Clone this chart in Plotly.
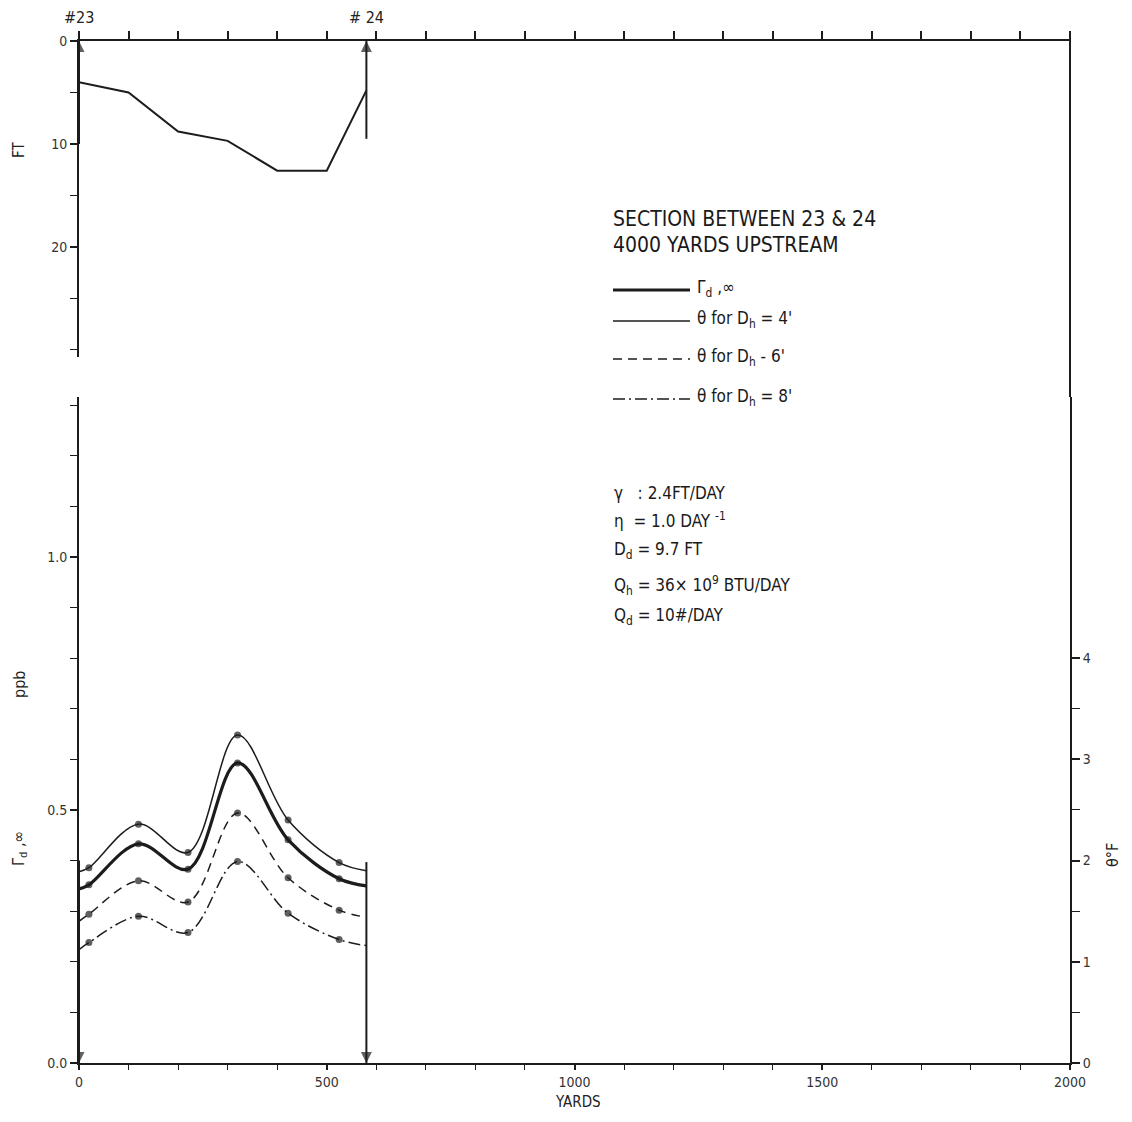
import plotly.graph_objects as go

# ---------------- data ----------------
# Upper panel: channel cross-section depth (ft) vs distance (yards)
depth_x = [0, 100, 200, 300, 400, 500, 580]
depth_ft = [4.0, 5.0, 8.8, 9.7, 12.6, 12.6, 4.8]

# Lower panel: concentration / temperature curves
curve_x = [0, 20, 120, 220, 320, 422, 525, 580]
gamma_ppb = [0.344, 0.352, 0.433, 0.383, 0.593, 0.441, 0.364, 0.350]
theta_dh4 = [1.89, 1.93, 2.36, 2.08, 3.24, 2.40, 1.98, 1.90]
theta_dh6 = [1.40, 1.47, 1.80, 1.59, 2.47, 1.83, 1.51, 1.44]
theta_dh8 = [1.12, 1.19, 1.45, 1.29, 1.99, 1.48, 1.22, 1.16]
marker_shown = [0, 1, 1, 1, 1, 1, 1, 0]

# section boundaries (stations #23 and #24)
station_labels = ["#23", "# 24"]
station_x = [0, 580]
top_arrow_ft = [10.0, 9.5]
bottom_arrow_ppb = [0.40, 0.397]

legend_labels = ["Γ<sub>d</sub> ,∞", "θ for D<sub>h</sub> = 4'", "θ for D<sub>h</sub> - 6'", "θ for D<sub>h</sub> = 8'"]
param_lines = [
    "γ   : 2.4FT/DAY",
    "η  = 1.0 DAY <sup>-1</sup>",
    "D<sub>d</sub> = 9.7 FT",
    "Q<sub>h</sub> = 36× 10<sup>9</sup> BTU/DAY",
    "Q<sub>d</sub> = 10#/DAY",
]
title_lines = ["SECTION BETWEEN 23 & 24", "4000 YARDS UPSTREAM"]

# ---------------- style ----------------
FONT = "Liberation Sans Narrow, DejaVu Sans Condensed, Arial Narrow, Liberation Sans, sans-serif"
INK = "#1c1c1c"
OFF = 8  # page body margin
W, H = 1132 - 2 * OFF, 1122 - 2 * OFF
ML, MR, MT, MB = 71, 54, 33, 51
PW, PH = W - ML - MR, H - MT - MB


def px_x(px):
    return (px - OFF - ML) / PW


def px_y(py):
    return (OFF + MT + PH - py) / PH


LOW_TOP = px_y(397)
TOP_BOT = px_y(357)
PPB_PER_DEGF = 0.2
PPB_MAX = 1.316

fig = go.Figure()

# upper panel depth profile
fig.add_trace(go.Scatter(x=depth_x, y=depth_ft, xaxis="x2", yaxis="y2", mode="lines",
                         line=dict(color=INK, width=2), showlegend=False, hoverinfo="skip"))

sizes = [7 * m for m in marker_shown]
# Gamma (thick solid) on ppb axis
fig.add_trace(go.Scatter(x=curve_x, y=gamma_ppb, xaxis="x", yaxis="y", mode="lines+markers",
                         line=dict(color=INK, width=3.2, shape="spline", smoothing=1.0),
                         marker=dict(size=sizes, color=INK, line=dict(width=0)), showlegend=False))
# theta curves on degF axis
for vals, dash in [(theta_dh4, "solid"), (theta_dh6, "9px,6px"), (theta_dh8, "12px,4px,2px,4px")]:
    fig.add_trace(go.Scatter(x=curve_x, y=vals, xaxis="x", yaxis="y3", mode="lines+markers",
                             line=dict(color=INK, width=1.5, dash=dash, shape="spline", smoothing=1.0),
                             marker=dict(size=sizes, color=INK, line=dict(width=0)), showlegend=False))

# station boundary arrows
for sx, ft, ppb in zip(station_x, top_arrow_ft, bottom_arrow_ppb):
    fig.add_trace(go.Scatter(x=[sx, sx], y=[0, ft], xaxis="x2", yaxis="y2", mode="lines+markers",
                             line=dict(color=INK, width=2),
                             marker=dict(symbol="arrow-up", size=[11, 0], color=INK, line=dict(width=0)),
                             showlegend=False, hoverinfo="skip"))
    fig.add_trace(go.Scatter(x=[sx, sx], y=[0, ppb], xaxis="x", yaxis="y", mode="lines+markers",
                             line=dict(color=INK, width=2),
                             marker=dict(symbol="arrow-down", size=[11, 0], color=INK, line=dict(width=0)),
                             showlegend=False, hoverinfo="skip"))

axis_common = dict(showline=True, linecolor=INK, linewidth=2, showgrid=False, zeroline=False,
                   tickcolor=INK, tickwidth=1.6, tickfont=dict(family=FONT, size=14, color="#333"))

fig.update_layout(
    width=W, height=H,
    margin=dict(l=ML, r=MR, t=MT, b=MB),
    paper_bgcolor="white", plot_bgcolor="white",
    showlegend=False,
    xaxis=dict(domain=[0, 1], range=[0, 2000], anchor="y", ticks="outside", ticklen=5,
               tickvals=[0, 500, 1000, 1500, 2000],
               minor=dict(tickvals=[v for v in range(100, 2000, 100) if v % 500], ticks="outside",
                          ticklen=5, tickcolor=INK, tickwidth=1.4),
               **axis_common),
    yaxis=dict(domain=[0, LOW_TOP], range=[0, PPB_MAX], anchor="x", ticks="outside", ticklen=7,
               tickvals=[0, 0.5, 1.0], tickformat=".1f",
               minor=dict(tickvals=[0.1, 0.2, 0.3, 0.4, 0.6, 0.7, 0.8, 0.9, 1.1, 1.2, 1.3], ticks="outside",
                          ticklen=7, tickcolor=INK, tickwidth=1.4),
               **axis_common),
    yaxis3=dict(overlaying="y", side="right", anchor="x", range=[0, PPB_MAX / PPB_PER_DEGF],
                ticks="outside", ticklen=8, tickvals=[0, 1, 2, 3, 4],
                minor=dict(tickvals=[0.5, 1.5, 2.5, 3.5], ticks="outside", ticklen=8,
                           tickcolor=INK, tickwidth=1.4),
                **axis_common),
    xaxis2=dict(domain=[0, 1], range=[0, 2000], anchor="y2", side="top", ticks="outside", ticklen=8,
                tickvals=list(range(0, 2001, 100)), showticklabels=False, **axis_common),
    yaxis2=dict(domain=[TOP_BOT, 1], range=[30.7, 0], anchor="x2", ticks="outside", ticklen=7,
                tickvals=[0, 10, 20],
                minor=dict(tickvals=[5, 15, 25, 30], ticks="outside", ticklen=7,
                           tickcolor=INK, tickwidth=1.4),
                **axis_common),
)

# right border continuing above the lower panel
fig.add_shape(type="line", xref="paper", yref="paper", x0=1, x1=1, y0=LOW_TOP, y1=1.008,
              line=dict(color=INK, width=2))

for sx, lab in zip(station_x, station_labels):
    fig.add_annotation(x=sx, y=px_y(17), xref="x2", yref="paper", text=lab, showarrow=False,
                       xanchor="center", yanchor="middle", font=dict(family=FONT, size=16, color="#222"))

# title block
for i, t in enumerate(title_lines):
    fig.add_annotation(x=px_x(611), y=px_y(219 + 26 * i), xref="paper", yref="paper", text=t,
                       showarrow=False, xanchor="left", yanchor="middle",
                       font=dict(family=FONT, size=21, color="#1a1a1a"))

# custom legend
leg_y = [290, 321, 359, 399]
leg_styles = [(3.2, "solid"), (1.5, "solid"), (1.5, "9px,6px"), (1.5, "12px,4px,2px,4px")]
for lab, py, (w, d) in zip(legend_labels, leg_y, leg_styles):
    fig.add_shape(type="line", xref="paper", yref="paper", x0=px_x(613), x1=px_x(690),
                  y0=px_y(py), y1=px_y(py), line=dict(color=INK, width=w, dash=d))
    fig.add_annotation(x=px_x(695), y=px_y(py - 2), xref="paper", yref="paper", text=lab,
                       showarrow=False, xanchor="left", yanchor="middle",
                       font=dict(family=FONT, size=17, color="#1a1a1a"))

# parameters
param_y = [493, 520, 550, 586, 616]
for t, py in zip(param_lines, param_y):
    fig.add_annotation(x=px_x(612), y=px_y(py), xref="paper", yref="paper", text=t,
                       showarrow=False, xanchor="left", yanchor="middle",
                       font=dict(family=FONT, size=17, color="#1a1a1a"))

# axis titles
title_font = dict(family=FONT, size=15, color="#222")
fig.add_annotation(x=px_x(578), y=px_y(1102), xref="paper", yref="paper", text="YARDS",
                   showarrow=False, xanchor="center", yanchor="middle", font=title_font)
fig.add_annotation(x=px_x(19), y=px_y(150), xref="paper", yref="paper", text="FT", textangle=-90,
                   showarrow=False, xanchor="center", yanchor="middle", font=title_font)
fig.add_annotation(x=px_x(19), y=px_y(848), xref="paper", yref="paper", text="Γ<sub>d</sub> ,∞",
                   textangle=-90, showarrow=False, xanchor="center", yanchor="middle",
                   font=dict(family=FONT, size=16, color="#222"))
fig.add_annotation(x=px_x(19), y=px_y(685), xref="paper", yref="paper", text="ppb", textangle=-90,
                   showarrow=False, xanchor="center", yanchor="middle",
                   font=dict(family=FONT, size=16, color="#222"))
fig.add_annotation(x=px_x(1112), y=px_y(855), xref="paper", yref="paper", text="θ°F", textangle=-90,
                   showarrow=False, xanchor="center", yanchor="middle",
                   font=dict(family=FONT, size=16, color="#222"))

fig.write_html("out.html")
